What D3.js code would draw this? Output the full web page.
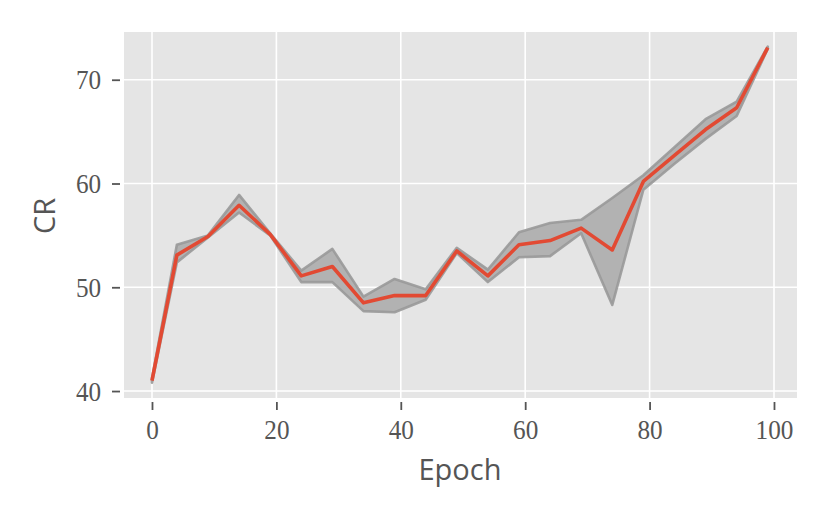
<!DOCTYPE html>
<html><head><meta charset="utf-8">
<script src="https://cdn.jsdelivr.net/npm/d3@7"></script>
<style>body{margin:0;background:#fff}</style>
</head><body>
<svg id="c" width="830" height="519"></svg>
<script>
const epochs = [0,4,9,14,19,24,29,34,39,44,49,54,59,64,69,74,79,84,89,94,99];
const meanCR = [41.0,53.1,54.9,57.9,55.1,51.1,52.0,48.5,49.2,49.2,53.5,51.1,54.1,54.5,55.7,53.6,60.2,62.7,65.2,67.3,73.1];
const upperCR = [41.2,54.1,55.0,58.9,55.2,51.6,53.7,49.1,50.8,49.8,53.8,51.7,55.3,56.2,56.5,58.6,60.8,63.5,66.2,67.9,73.2];
const lowerCR = [40.8,52.4,54.8,57.2,55.0,50.5,50.5,47.7,47.6,48.8,53.3,50.5,52.9,53.0,55.2,48.3,59.4,61.9,64.3,66.5,73.0];
const xTicks = [0,20,40,60,80,100];
const yTicks = [40,50,60,70];

const svg = d3.select("#c");
const L=124,R=797,T=32,B=398;
const x = d3.scaleLinear().domain([-4.5,103.7]).range([L,R]);
const y = d3.scaleLinear().domain([39.33,74.6]).range([B,T]);

svg.append("rect").attr("x",L).attr("y",T).attr("width",R-L).attr("height",B-T).attr("fill","#e5e5e5");
const g = svg.append("g");
xTicks.forEach(t=>{
  g.append("line").attr("x1",x(t)).attr("x2",x(t)).attr("y1",T).attr("y2",B).attr("stroke","#fff").attr("stroke-width",1.6);
});
yTicks.forEach(t=>{
  g.append("line").attr("x1",L).attr("x2",R).attr("y1",y(t)).attr("y2",y(t)).attr("stroke","#fff").attr("stroke-width",1.6);
});

const data = epochs.map((e,i)=>({e,m:meanCR[i],u:upperCR[i],l:lowerCR[i]}));
const area = d3.area().x(d=>x(d.e)).y0(d=>y(d.l)).y1(d=>y(d.u));
svg.append("path").datum(data).attr("d",area).attr("fill","#b2b2b2").attr("stroke","#999").attr("stroke-opacity",0.9).attr("stroke-width",2.6).attr("stroke-linejoin","round");
const line = d3.line().x(d=>x(d.e)).y(d=>y(d.m));
svg.append("path").datum(data).attr("d",line).attr("fill","none").attr("stroke","#E24A33").attr("stroke-width",3.6).attr("stroke-linejoin","round");

// axes
const xa = svg.append("g").attr("transform",`translate(0,${B+4})`).call(d3.axisBottom(x).tickValues(xTicks).tickSize(8).tickPadding(9));
const ya = svg.append("g").attr("transform",`translate(${L-4},0)`).call(d3.axisLeft(y).tickValues(yTicks).tickSize(8).tickPadding(11));
[xa,ya].forEach(a=>{
  a.select(".domain").remove();
  a.selectAll(".tick line").attr("stroke","#555").attr("stroke-width",1.8);
  a.selectAll(".tick text").attr("fill","#555").attr("font-family","'Liberation Serif','DejaVu Serif',serif").attr("font-size",28);
});
xa.selectAll(".tick text").attr("transform","scale(0.9,1)");
ya.selectAll(".tick text").attr("x",-21).attr("transform","scale(0.9,1)");
svg.append("text").attr("x",460).attr("y",480).attr("text-anchor","middle").attr("fill","#555")
  .attr("font-family","'Open Sans','DejaVu Sans',sans-serif").attr("font-size",29).text("Epoch");
svg.append("text").attr("transform","translate(55,216) rotate(-90)").attr("text-anchor","middle").attr("fill","#555")
  .attr("font-family","'Open Sans','DejaVu Sans',sans-serif").attr("font-size",29).text("CR");
</script>
</body></html>
